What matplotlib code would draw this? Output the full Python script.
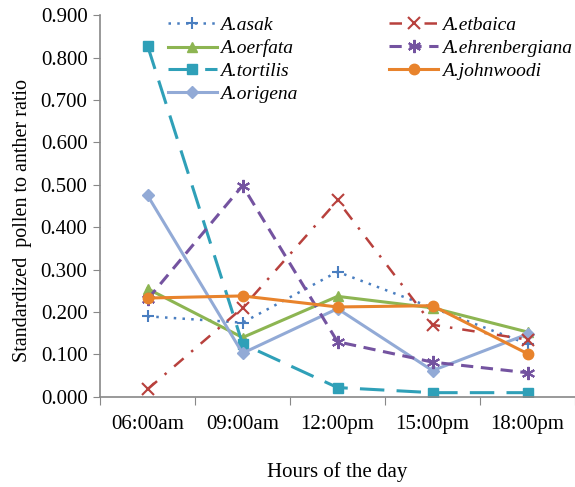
import matplotlib.pyplot as plt
import numpy as np

plt.rcParams['font.family'] = ['Liberation Serif', 'DejaVu Serif']

hours = ['06:00am', '09:00am', '12:00pm', '15:00pm', '18:00pm']

asak = [0.190, 0.175, 0.295, 0.210, 0.125]
etbaica = [0.018, 0.210, 0.463, 0.170, 0.135]
oerfata = [0.255, 0.140, 0.237, 0.210, 0.153]
ehrenbergiana = [0.230, 0.498, 0.130, 0.082, 0.057]
tortilis = [0.828, 0.125, 0.022, 0.010, 0.010]
johnwoodi = [0.233, 0.238, 0.212, 0.215, 0.102]
origena = [0.475, 0.103, 0.208, 0.062, 0.148]

x = np.arange(len(hours)) + 0.5

fig = plt.figure(figsize=(5.75, 4.87), dpi=100)
ax = fig.add_axes([0.174, 0.185, 0.826, 0.784])

ax.plot(x, asak, color='#4A7EC0', ls=(0, (1, 2.5)), lw=1.8, marker='+', ms=9, mew=1.5, label='A.asak')
ax.plot(x, oerfata, color='#8DB552', ls='-', lw=2.2, marker='^', ms=7.5, label='A.oerfata')
ax.plot(x, tortilis, color='#2FA0B8', ls=(0, (8, 4)), lw=2.2, marker='s', ms=7.5, label='A.tortilis')
ax.plot(x, origena, color='#92AAD6', ls='-', lw=2.2, marker='D', ms=6.5, label='A.origena')
ax.plot(x, etbaica, color='#B8413D', ls=(0, (5, 4, 1, 4)), lw=1.8, marker='x', ms=8.5, mew=1.5, label='A.etbaica')
ax.plot(x, ehrenbergiana, color='#7453A0', ls=(0, (4, 2.5)), lw=2.2, marker=(6, 2, 0), ms=9.5, mew=1.5, label='A.ehrenbergiana')
ax.plot(x, johnwoodi, color='#E8832C', ls='-', lw=2.2, marker='o', ms=7.5, label='A.johnwoodi')

ax.set_xlim(0, 5)
ax.set_ylim(0, 0.9)
yt = np.arange(0, 0.91, 0.1)
ax.set_yticks(yt)
ax.set_yticklabels([f'{v:.3f}' for v in yt], fontsize=15)
ax.set_xticks(np.arange(0, 6))
ax.set_xticklabels([])
ax.set_xticks(x, minor=True)
ax.set_xticklabels(hours, minor=True, fontsize=15)
ax.tick_params(axis='x', which='minor', length=0, pad=13)
ax.tick_params(axis='x', which='major', length=6, color='#888888')
ax.tick_params(axis='y', length=5, color='#888888', pad=4)

for s in ['top', 'right']:
    ax.spines[s].set_visible(False)
for s in ['left', 'bottom']:
    ax.spines[s].set_color('#888888')
    ax.spines[s].set_linewidth(1.2)

ax.set_ylabel('Standardized  pollen to anther ratio', fontsize=14.5)
ax.yaxis.set_label_coords(-0.144, 0.463)
ax.set_xlabel('Hours of the day', fontsize=15, labelpad=20)

leg = ax.legend(ncol=2, loc='upper left', bbox_to_anchor=(0.143, 0.996), frameon=False,
                prop={'style': 'italic', 'size': 14}, handlelength=2.5, handletextpad=0.2,
                columnspacing=4.7, labelspacing=0.27, borderpad=0, borderaxespad=0)

fig.savefig('out.png', dpi=100)
